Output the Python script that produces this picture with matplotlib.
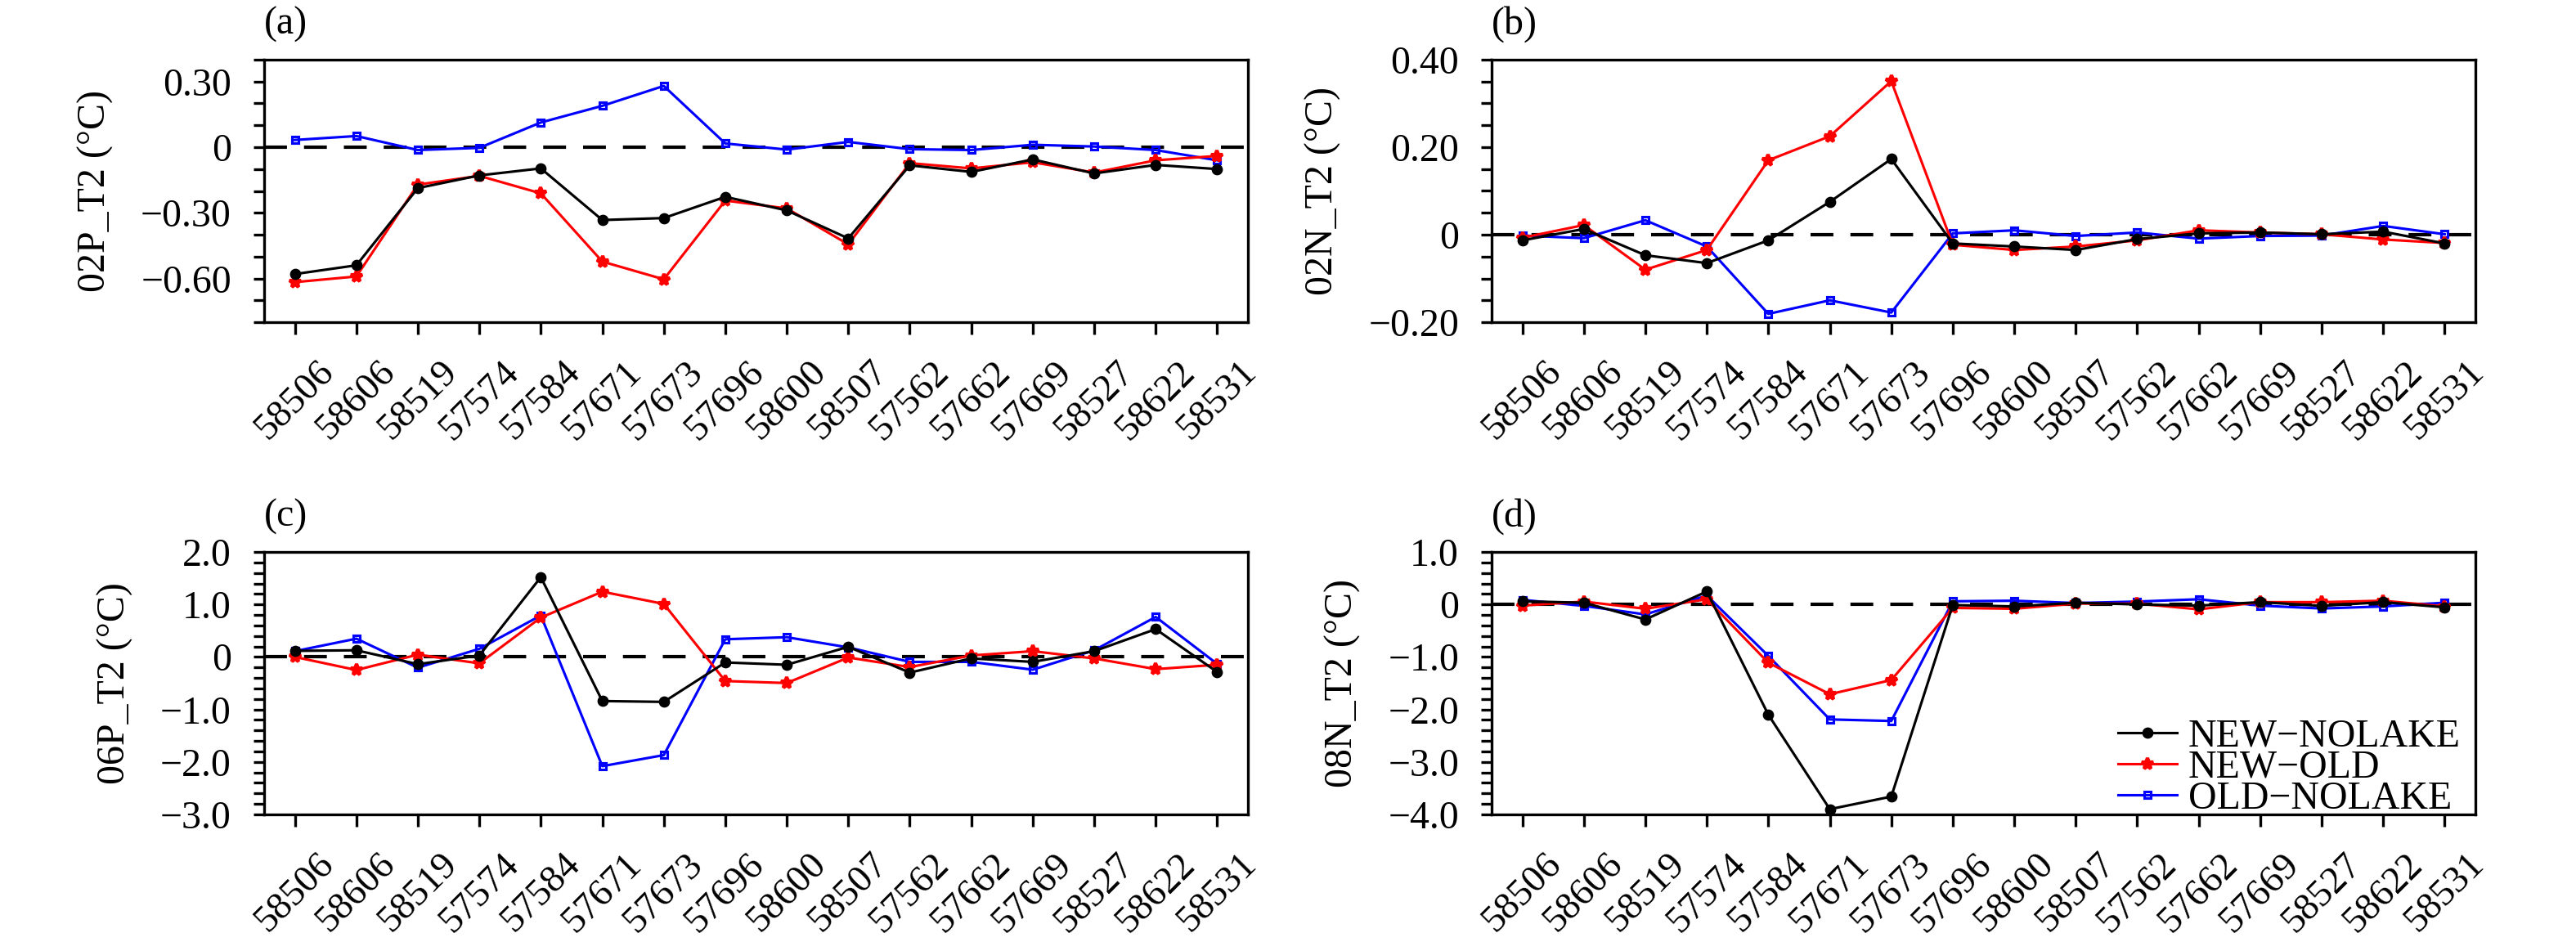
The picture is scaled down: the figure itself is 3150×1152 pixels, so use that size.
import matplotlib
matplotlib.use("Agg")
import matplotlib.pyplot as plt
from matplotlib.ticker import FixedLocator, FixedFormatter, MultipleLocator
import numpy as np

plt.rcParams['font.family'] = ['Liberation Serif', 'DejaVu Serif']
plt.rcParams['axes.unicode_minus'] = True

stations = ['58506', '58606', '58519', '57574', '57584', '57671', '57673', '57696',
            '58600', '58507', '57562', '57662', '57669', '58527', '58622', '58531']

series_names = ['NEW\u2212NOLAKE', 'NEW\u2212OLD', 'OLD\u2212NOLAKE']

# Panel (a) 02P_T2
a_new_nolake = [-0.58, -0.54, -0.187, -0.129, -0.097, -0.333, -0.324, -0.227,
                -0.289, -0.417, -0.083, -0.113, -0.056, -0.12, -0.081, -0.10]
a_new_old = [-0.617, -0.591, -0.171, -0.131, -0.211, -0.523, -0.604, -0.244,
             -0.28, -0.444, -0.073, -0.097, -0.069, -0.116, -0.06, -0.04]
a_old_nolake = [0.033, 0.051, -0.013, -0.003, 0.113, 0.189, 0.28, 0.017,
                -0.011, 0.024, -0.009, -0.013, 0.011, 0.003, -0.013, -0.06]

# Panel (b) 02N_T2
b_new_nolake = [-0.013, 0.013, -0.047, -0.065, -0.013, 0.075, 0.173, -0.02,
                -0.027, -0.035, -0.01, 0.003, 0.005, 0.001, 0.007, -0.02]
b_new_old = [-0.007, 0.022, -0.08, -0.035, 0.17, 0.225, 0.351, -0.023,
             -0.035, -0.027, -0.013, 0.01, 0.005, 0.001, -0.011, -0.019]
b_old_nolake = [-0.002, -0.008, 0.033, -0.027, -0.181, -0.15, -0.178, 0.003,
                0.01, -0.003, 0.005, -0.009, -0.003, -0.002, 0.02, 0.001]

# Panel (c) 06P_T2
c_new_nolake = [0.116, 0.127, -0.138, 0.028, 1.52, -0.84, -0.856, -0.105,
                -0.149, 0.193, -0.298, -0.028, -0.094, 0.11, 0.53, -0.287]
c_new_old = [0.0, -0.249, 0.044, -0.122, 0.75, 1.243, 1.01, -0.459,
             -0.497, -0.011, -0.193, 0.028, 0.11, -0.028, -0.232, -0.149]
c_old_nolake = [0.11, 0.348, -0.204, 0.155, 0.79, -2.08, -1.87, 0.337,
                0.376, 0.182, -0.094, -0.094, -0.243, 0.127, 0.762, -0.133]

# Panel (d) 08N_T2
d_new_nolake = [0.06, 0.033, -0.286, 0.247, -2.10, -3.90, -3.66, -0.011,
                -0.038, 0.033, 0.0, -0.022, 0.044, -0.027, 0.044, -0.055]
d_new_old = [-0.022, 0.055, -0.082, 0.099, -1.11, -1.71, -1.44, -0.066,
             -0.082, 0.016, 0.016, -0.093, 0.044, 0.044, 0.071, -0.038]
d_old_nolake = [0.088, -0.027, -0.19, 0.17, -0.98, -2.19, -2.22, 0.06,
                0.071, 0.027, 0.055, 0.099, -0.022, -0.077, -0.038, 0.033]

panel_letters = ['(a)', '(b)', '(c)', '(d)']
ylabels = ['02P_T2 (\u00b0C)', '02N_T2 (\u00b0C)', '06P_T2 (\u00b0C)', '08N_T2 (\u00b0C)']
ylims = [(-0.8, 0.4), (-0.2, 0.4), (-3.0, 2.0), (-4.0, 1.0)]
major_ticks = [[-0.6, -0.3, 0.0, 0.3], [-0.2, 0.0, 0.2, 0.4],
               [-3, -2, -1, 0, 1, 2], [-4, -3, -2, -1, 0, 1]]
major_labels = [['\u22120.60', '\u22120.30', '0', '0.30'],
                ['\u22120.20', '0', '0.20', '0.40'],
                ['\u22123.0', '\u22122.0', '\u22121.0', '0', '1.0', '2.0'],
                ['\u22124.0', '\u22123.0', '\u22122.0', '\u22121.0', '0', '1.0']]
minor_steps = [0.1, 0.05, 0.2, 0.2]

data = [(a_new_nolake, a_new_old, a_old_nolake),
        (b_new_nolake, b_new_old, b_old_nolake),
        (c_new_nolake, c_new_old, c_old_nolake),
        (d_new_nolake, d_new_old, d_old_nolake)]

W, H = 3150, 1152
fig = plt.figure(figsize=(W / 300, H / 300), dpi=300)
lefts = [323, 1824, 323, 1824]
tops = [73, 73, 675, 675]
aw, ah = 1203, 321

FS = 11.5
XFS = 11.2
x = np.arange(len(stations))
for i in range(4):
    ax = fig.add_axes([lefts[i] / W, 1 - (tops[i] + ah) / H, aw / W, ah / H])
    nn, no, on = data[i]
    ax.axhline(0, color='black', lw=1.0, ls=(0, (6.7, 5.0)), zorder=1)
    ax.plot(x, on, color='#0000ff', lw=0.75, marker='s', ms=2.0, mfc='none',
            mec='#0000ff', mew=0.75, label=series_names[2], zorder=3)
    ax.plot(x, no, color='#ff0000', lw=0.75, marker='*', ms=3.4,
            mec='#ff0000', mfc='#ff0000', label=series_names[1], zorder=4)
    ax.plot(x, nn, color='black', lw=0.75, marker='o', ms=2.3,
            label=series_names[0], zorder=5)
    ax.set_xlim(-0.5, len(stations) - 0.5)
    ax.set_ylim(*ylims[i])
    ax.set_xticks(x)
    ax.set_xticklabels(stations, rotation=45, ha='center', fontsize=XFS)
    ax.yaxis.set_major_locator(FixedLocator(major_ticks[i]))
    ax.yaxis.set_major_formatter(FixedFormatter(major_labels[i]))
    ax.yaxis.set_minor_locator(MultipleLocator(minor_steps[i]))
    ax.tick_params(axis='y', which='both', direction='out', length=3.1, width=0.8,
                   labelsize=FS, pad=6.5)
    ax.tick_params(axis='x', which='both', direction='out', length=3.6, width=0.8,
                   labelsize=XFS, pad=6)
    ax.tick_params(top=False, right=False)
    for sp in ax.spines.values():
        sp.set_linewidth(0.8)
    ax.set_ylabel(ylabels[i], fontsize=FS, labelpad=8)
    ax.text(0.0, 1.065, panel_letters[i], transform=ax.transAxes, ha='left',
            va='bottom', fontsize=FS)
    if i == 3:
        handles, labels = ax.get_legend_handles_labels()
        order = [2, 1, 0]
        ax.legend([handles[k] for k in order], [labels[k] for k in order],
                  loc='lower right', bbox_to_anchor=(1 - 18 / aw, -0.01),
                  frameon=False, fontsize=FS, handlelength=1.5,
                  handletextpad=0.3, labelspacing=-0.12, borderpad=0,
                  borderaxespad=0)

fig.savefig('out.png', dpi=300)
